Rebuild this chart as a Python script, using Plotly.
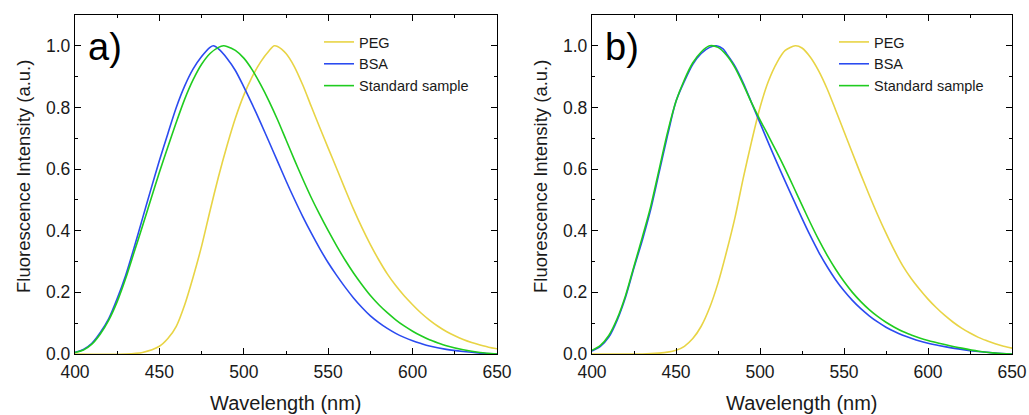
import plotly.graph_objects as go

# ---------------- data (panel a) ----------------
a_peg_x = [400, 430, 440, 450, 455, 460, 465, 470, 475, 480, 485, 490, 495, 500, 505, 510, 515, 518, 520, 525,
           530, 535, 540, 545, 550, 555, 560, 565, 570, 575, 580, 585, 590, 595, 600, 605, 610, 615, 620, 625,
           630, 635, 640, 645, 650]
a_peg_y = [0.0, 0.0, 0.005, 0.025, 0.05, 0.09, 0.16, 0.25, 0.35, 0.465, 0.575, 0.675, 0.765, 0.84, 0.90, 0.948, 0.984, 1.0, 0.998, 0.975,
           0.932, 0.872, 0.803, 0.735, 0.668, 0.602, 0.535, 0.47, 0.41, 0.355, 0.305, 0.26, 0.222, 0.189, 0.16, 0.133, 0.11, 0.09, 0.073, 0.059,
           0.047, 0.037, 0.029, 0.022, 0.017]

a_bsa_x = [400, 405, 410, 415, 420, 425, 430, 435, 440, 445, 450, 455, 460, 465, 470, 475, 480, 482, 485, 490,
           495, 500, 505, 510, 515, 520, 525, 530, 535, 540, 545, 550, 555, 560, 565, 570, 575, 580, 585, 590,
           595, 600, 605, 610, 620, 630, 640, 650]
a_bsa_y = [0.005, 0.015, 0.035, 0.07, 0.115, 0.18, 0.255, 0.345, 0.44, 0.535, 0.628, 0.715, 0.80, 0.87, 0.925, 0.965, 0.995, 1.0, 0.99, 0.96,
           0.92, 0.867, 0.81, 0.75, 0.688, 0.625, 0.562, 0.502, 0.445, 0.392, 0.342, 0.296, 0.255, 0.217, 0.182, 0.151, 0.124, 0.102, 0.083, 0.067,
           0.054, 0.043, 0.034, 0.026, 0.015, 0.008, 0.003, 0.0]

a_std_x = [400, 405, 410, 415, 420, 425, 430, 435, 440, 445, 450, 455, 460, 465, 470, 475, 480, 485, 488, 490,
           495, 500, 505, 510, 515, 520, 525, 530, 535, 540, 545, 550, 555, 560, 565, 570, 575, 580, 585, 590,
           595, 600, 605, 610, 615, 620, 630, 640, 650]
a_std_y = [0.005, 0.013, 0.032, 0.065, 0.11, 0.17, 0.245, 0.33, 0.415, 0.503, 0.59, 0.672, 0.752, 0.827, 0.89, 0.94, 0.975, 0.995, 1.0, 0.998,
           0.985, 0.96, 0.922, 0.874, 0.82, 0.76, 0.695, 0.63, 0.567, 0.507, 0.452, 0.40, 0.351, 0.305, 0.263, 0.225, 0.19, 0.16, 0.134, 0.111,
           0.091, 0.074, 0.059, 0.046, 0.036, 0.027, 0.014, 0.005, 0.0]

# ---------------- data (panel b) ----------------
b_peg_x = [400, 430, 440, 445, 450, 455, 460, 465, 470, 475, 480, 485, 490, 495, 500, 505, 510, 515, 521, 525,
           530, 535, 540, 545, 550, 555, 560, 565, 570, 575, 580, 585, 590, 595, 600, 605, 610, 615, 620, 625,
           630, 635, 640, 645, 650]
b_peg_y = [0.0, 0.0, 0.003, 0.006, 0.012, 0.025, 0.05, 0.09, 0.15, 0.23, 0.33, 0.44, 0.57, 0.69, 0.80, 0.885, 0.945, 0.985, 1.0, 0.993,
           0.963, 0.918, 0.86, 0.792, 0.722, 0.652, 0.583, 0.516, 0.452, 0.392, 0.336, 0.286, 0.245, 0.21, 0.178, 0.15, 0.125, 0.103, 0.084, 0.068,
           0.054, 0.043, 0.033, 0.025, 0.019]

b_bsa_x = [400, 405, 410, 415, 420, 425, 430, 435, 440, 445, 450, 455, 460, 465, 470, 474, 478, 480, 485, 490,
           495, 500, 505, 510, 515, 520, 525, 530, 535, 540, 545, 550, 555, 560, 565, 570, 575, 580, 585, 590,
           595, 600, 605, 610, 620, 630, 640, 650]
b_bsa_y = [0.01, 0.025, 0.055, 0.11, 0.185, 0.28, 0.37, 0.47, 0.59, 0.71, 0.82, 0.885, 0.94, 0.975, 0.995, 1.0, 0.99, 0.975, 0.935, 0.88,
           0.815, 0.75, 0.685, 0.622, 0.56, 0.50, 0.44, 0.383, 0.33, 0.283, 0.241, 0.205, 0.174, 0.147, 0.124, 0.104, 0.087, 0.073, 0.061, 0.051,
           0.042, 0.035, 0.029, 0.024, 0.015, 0.008, 0.003, 0.0]

b_std_x = [400, 405, 410, 415, 420, 425, 430, 435, 440, 445, 450, 455, 460, 465, 470, 475, 480, 485, 490, 495,
           500, 505, 510, 515, 520, 525, 530, 535, 540, 545, 550, 555, 560, 565, 570, 575, 580, 585, 590, 595,
           600, 610, 620, 630, 640, 650]
b_std_y = [0.012, 0.028, 0.06, 0.115, 0.19, 0.285, 0.38, 0.48, 0.60, 0.72, 0.82, 0.89, 0.945, 0.98, 1.0, 0.995, 0.97, 0.93, 0.875, 0.815,
           0.76, 0.708, 0.655, 0.60, 0.542, 0.483, 0.425, 0.37, 0.32, 0.275, 0.235, 0.2, 0.17, 0.144, 0.122, 0.103, 0.087, 0.073, 0.062, 0.052,
           0.044, 0.031, 0.019, 0.009, 0.003, 0.0]

series_names = ["PEG", "BSA", "Standard sample"]
colors = ["#E8D445", "#2B4BF0", "#1FCC1F"]
x_ticks = [400, 450, 500, 550, 600, 650]
y_ticks = [0.0, 0.2, 0.4, 0.6, 0.8, 1.0]
panel_labels = ["a)", "b)"]

W, H = 1029, 415
FONT = "Liberation Sans, Arial, sans-serif"
TXT = "#1a1a1a"

fig = go.Figure()

panels = [
    ([a_peg_x, a_bsa_x, a_std_x], [a_peg_y, a_bsa_y, a_std_y], "x", "y", "legend"),
    ([b_peg_x, b_bsa_x, b_std_x], [b_peg_y, b_bsa_y, b_std_y], "x2", "y2", "legend2"),
]
for xs, ys, xa, ya, lg in panels:
    for name, c, xv, yv in zip(series_names, colors, xs, ys):
        fig.add_trace(go.Scatter(x=xv, y=yv, mode="lines", name=name, xaxis=xa, yaxis=ya, legend=lg,
                                 line=dict(color=c, width=1.6, shape="spline", smoothing=0.8)))

# plot-area geometry (pixels)
areas = [(75, 497), (592, 1012)]
ytop, ybot = 15, 354
ydom = [1 - ybot / H, 1 - ytop / H]

axis_common = dict(showline=True, linecolor="black", linewidth=1.3, mirror="allticks",
                   ticks="inside", ticklen=6, tickwidth=1.2, tickcolor="black",
                   showgrid=False, zeroline=False, automargin=False,
                   tickfont=dict(family=FONT, size=17.5, color=TXT))

layout = dict(width=W, height=H, margin=dict(l=0, r=0, t=0, b=0, autoexpand=False),
              paper_bgcolor="white", plot_bgcolor="white",
              font=dict(family=FONT, color=TXT))

for i, (x0, x1) in enumerate(areas):
    sfx = "" if i == 0 else str(i + 1)
    layout["xaxis" + sfx] = dict(axis_common, domain=[x0 / W, x1 / W], range=[400, 650],
                                 tickvals=x_ticks, anchor="y" + sfx, ticklabelstandoff=2,
                                 minor=dict(dtick=25, ticks="inside", ticklen=3, tickwidth=1.2, tickcolor="black"))
    layout["yaxis" + sfx] = dict(axis_common, domain=ydom, range=[0, 1.1],
                                 tickvals=y_ticks, tickformat=".1f", anchor="x" + sfx,
                                 minor=dict(dtick=0.1, ticks="inside", ticklen=3, tickwidth=1.2, tickcolor="black"))

legend_common = dict(font=dict(family=FONT, size=14.5, color=TXT), bgcolor="rgba(0,0,0,0)",
                     borderwidth=0, tracegroupgap=0, itemwidth=30, xanchor="left", yanchor="top")
layout["legend"] = dict(legend_common, x=319 / W, y=1 - 26 / H)
layout["legend2"] = dict(legend_common, x=834 / W, y=1 - 26 / H)

fig.update_layout(**layout)

for i, (x0, x1) in enumerate(areas):
    # panel label
    fig.add_annotation(x=(x0 + 11) / W, y=1 - 47 / H, xref="paper", yref="paper",
                       text=panel_labels[i], showarrow=False, xanchor="left", yanchor="middle",
                       font=dict(family=FONT, size=38, color="black"))
    # x-axis title
    fig.add_annotation(x=(x0 + x1) / 2 / W, y=1 - 403 / H, xref="paper", yref="paper",
                       text="Wavelength (nm)", showarrow=False, xanchor="center", yanchor="middle",
                       font=dict(family=FONT, size=20, color=TXT))
    # y-axis title
    fig.add_annotation(x=(x0 - 52) / W, y=1 - 177 / H, xref="paper", yref="paper",
                       text="Fluorescence Intensity (a.u.)", showarrow=False, textangle=-90,
                       xanchor="center", yanchor="middle",
                       font=dict(family=FONT, size=18.5, color=TXT))

fig.write_html("out.html", config={"displayModeBar": False},
               post_script="document.body.style.margin='0';document.body.style.overflow='hidden';")
